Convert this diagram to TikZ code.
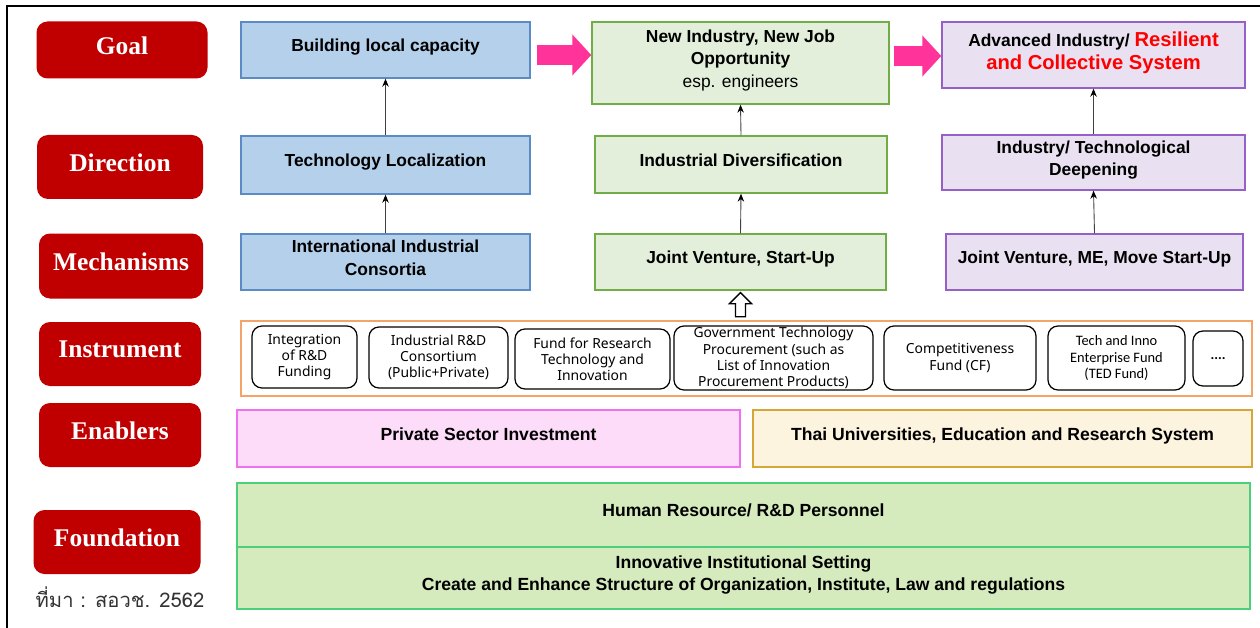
\documentclass[tikz,border=0pt]{standalone}
\usepackage{fontspec}
\usepackage{xcolor}
\setmainfont{Liberation Sans}
\newfontfamily\lblfont{Liberation Serif}
\newfontfamily\instfont{Noto Sans}
\newfontfamily\calfont{Carlito}
\newfontfamily\thaifont[Script=Thai]{Loma}
\usetikzlibrary{arrows, arrows.meta, calc}
\definecolor{lblred}{HTML}{C00000}
\definecolor{bfill}{HTML}{B4D0EB}
\definecolor{bline}{HTML}{5B8BC5}
\definecolor{gfill}{HTML}{E3EFDA}
\definecolor{gline}{HTML}{70AD47}
\definecolor{pfill}{HTML}{E9E1F1}
\definecolor{pline}{HTML}{9560C8}
\definecolor{hotpink}{HTML}{FF3399}
\definecolor{iline}{HTML}{F4A468}
\definecolor{enpink}{HTML}{FDDCFA}
\definecolor{enpline}{HTML}{F070F0}
\definecolor{enyel}{HTML}{FCF4DF}
\definecolor{enyline}{HTML}{D6A637}
\definecolor{ffill}{HTML}{D5EBBD}
\definecolor{fline}{HTML}{4CCE7C}
\newcommand{\pxu}{0.02cm}
\newcommand{\liftrule}{\rule[-5pt]{0pt}{0pt}}
\tikzset{
  lbl/.style={fill=lblred, rounded corners=0.22cm, text=white,
    font=\lblfont\bfseries\fontsize{14.5}{16}\selectfont, execute at end node=\liftrule},
  colbox/.style={draw, line width=0.8pt, align=center, inner sep=0pt,
    font=\bfseries\fontsize{9.9}{12.8}\selectfont, execute at end node=\liftrule},
  bluebox/.style={colbox, fill=bfill, draw=bline},
  greenbox/.style={colbox, fill=gfill, draw=gline},
  purplebox/.style={colbox, fill=pfill, draw=pline},
  instbox/.style={draw, line width=0.7pt, rounded corners=0.2cm, align=center, inner sep=0pt,
    font=\instfont\fontsize{7.9}{9.2}\selectfont},
  wide/.style={colbox, font=\bfseries\fontsize{10}{12.5}\selectfont},
  uparrow/.style={draw=black!75, line width=0.5pt, -{Stealth[length=1.6mm, width=1.3mm, black]}},
  pinkarrow/.style={draw=hotpink, line width=20*\pxu,
    -{Triangle[length=19*\pxu, width=40*\pxu, fill=hotpink]}},
}

\begin{document}
\begin{tikzpicture}[x=\pxu, y=-\pxu]
  \useasboundingbox (0,0) rectangle (1260,628);
  \draw[line width=1.6pt] (7,628) -- (7,6) -- (1260,6);

  % row labels
  \node[lbl, minimum width=171*\pxu, minimum height=57*\pxu] at (122,50) (goal){Goal};
  \node[lbl, minimum width=166*\pxu, minimum height=64*\pxu] at (120,167) (direction){Direction};
  \node[lbl, minimum width=164*\pxu, minimum height=65*\pxu] at (121,266) (mechanisms){Mechanisms};
  \node[lbl, minimum width=162*\pxu, minimum height=64*\pxu] at (120,354) (instrument){Instrument};
  \node[lbl, minimum width=162*\pxu, minimum height=64*\pxu] at (120,435) (enablers){Enablers};
  \node[lbl, minimum width=167*\pxu, minimum height=64*\pxu] at (117,542) (foundation){Foundation};
  \node[font=\thaifont\fontsize{11.5}{13}\selectfont, text=black!80] at (120,597) (source){ที่มา : สอวช. 2562};

  % three columns
  \node[bluebox, minimum width=289*\pxu, minimum height=56*\pxu] at (385.5,50) (cap){Building local capacity};
  \node[bluebox, minimum width=289*\pxu, minimum height=58*\pxu] at (385.5,165) (loc){Technology Localization};
  \node[bluebox, minimum width=289*\pxu, minimum height=56*\pxu] at (385.5,262) (cons){International Industrial\\Consortia};

  \node[greenbox, minimum width=297*\pxu, minimum height=82*\pxu] at (740.5,63) (newjob){New Industry, New Job\\Opportunity\\{\mdseries esp. engineers}};
  \node[greenbox, minimum width=292*\pxu, minimum height=57*\pxu] at (741,164.5) (div){Industrial Diversification};
  \node[greenbox, minimum width=291*\pxu, minimum height=56*\pxu] at (740.5,262) (jv){Joint Venture, Start-Up};

  \node[purplebox, minimum width=303*\pxu, minimum height=66*\pxu] at (1093.5,55) (adv){Advanced Industry/ {\color{red}\fontsize{11.5}{13}\selectfont Resilient}\\{\color{red}\fontsize{11.5}{13}\selectfont and Collective System}};
  \node[purplebox, minimum width=303*\pxu, minimum height=55*\pxu] at (1093.5,162.5) (deep){Industry/ Technological\\Deepening};
  \node[purplebox, minimum width=297*\pxu, minimum height=56*\pxu] at (1094.5,262) (jvme){Joint Venture, ME, Move Start-Up};

  \draw[uparrow] (cons.north) -- (loc.south);
  \draw[uparrow] (loc.north) -- (cap.south);
  \draw[uparrow] (jv.north) -- (div.south);
  \draw[uparrow] (div.north) -- (newjob.south);
  \draw[uparrow] (jvme.north) -- (deep.south);
  \draw[uparrow] (deep.north) -- (adv.south);

  \draw[pinkarrow] ($(cap.east)+(6,5)$) -- ($(newjob.west |- cap.east)+(0,5)$);
  \draw[pinkarrow] ($(newjob.east)+(4,-7)$) -- ($(adv.west)+(0,1)$);

  % instruments
  \node[draw=iline, line width=0.8pt, minimum width=1011*\pxu, minimum height=75*\pxu] at (746.5,358.5) (instr){};
  \node[instbox, minimum width=105*\pxu, minimum height=62*\pxu] at (304.5,357) (i1){Integration\\of R\&D\\Funding};
  \node[instbox, minimum width=139*\pxu, minimum height=61*\pxu] at (438.5,357.5) (i2){Industrial R\&D\\Consortium\\(Public+Private)};
  \node[instbox, minimum width=155*\pxu, minimum height=60*\pxu] at (592.5,359) (i3){Fund for Research\\Technology and\\Innovation};
  \node[instbox, minimum width=199*\pxu, minimum height=64*\pxu] at (773.5,358) (i4){Government Technology\\Procurement (such as\\List of Innovation\\Procurement Products)};
  \node[instbox, minimum width=152*\pxu, minimum height=64*\pxu] at (960,358) (i5){Competitiveness\\Fund (CF)};
  \node[instbox, minimum width=137*\pxu, minimum height=64*\pxu, font=\calfont\fontsize{8.2}{9.6}\selectfont] at (1116.5,358) (i6){Tech and Inno\\Enterprise Fund\\(TED Fund)};
  \node[instbox, minimum width=50*\pxu, minimum height=55*\pxu, font=\calfont\bfseries\fontsize{8}{9}\selectfont] at (1218,358.5) (i7){....};

  \draw[fill=white, line width=0.8pt] ($(jv.south)+(0,2)$) -- ++(11,11) -- ++(-6,0) -- ++(0,13)
    -- ++(-10,0) -- ++(0,-13) -- ++(-6,0) -- cycle;

  % enablers and foundation
  \node[wide, fill=enpink, draw=enpline, minimum width=503*\pxu, minimum height=57*\pxu] at (488.5,438.5) (private){Private Sector Investment};
  \node[wide, fill=enyel, draw=enyline, minimum width=499*\pxu, minimum height=57*\pxu] at (1002.5,438.5) (thaiuni){Thai Universities, Education and Research System};
  \node[wide, fill=ffill, draw=fline, minimum width=1013*\pxu, minimum height=64*\pxu] at (743.5,515) (human){Human Resource/ R\&D Personnel};
  \node[wide, fill=ffill, draw=fline, minimum width=1013*\pxu, minimum height=62*\pxu] at (743.5,578) (setting){Innovative Institutional Setting\\Create and Enhance Structure of Organization, Institute, Law and regulations};
\end{tikzpicture}
\end{document}
